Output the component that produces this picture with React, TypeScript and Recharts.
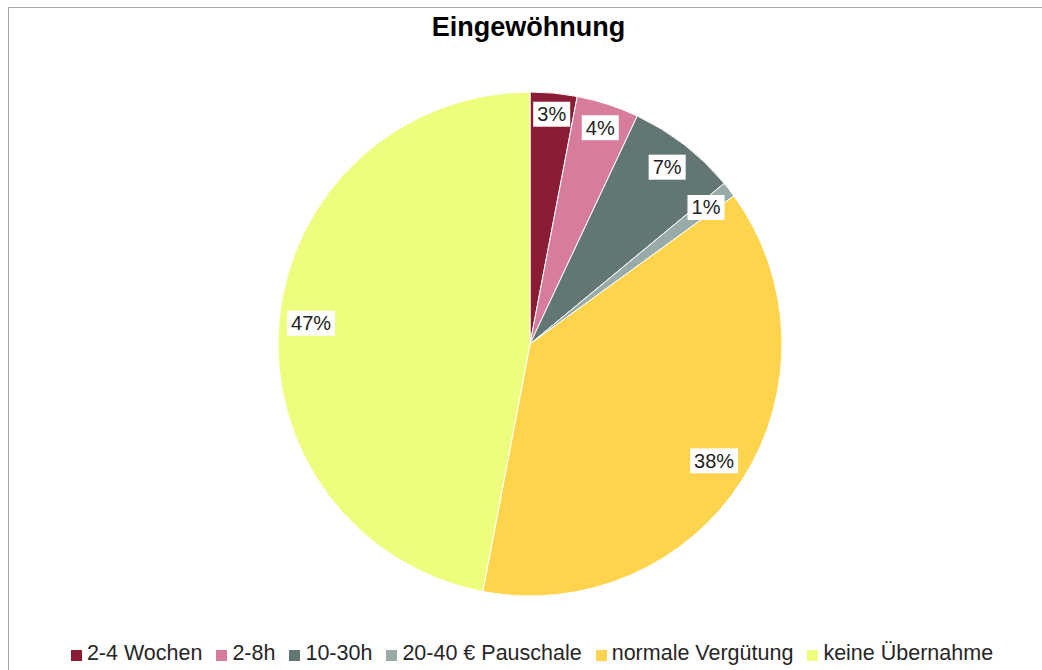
import React from "react";
import { PieChart, Pie, Cell, Legend } from "recharts";

const categories = [
  "2-4 Wochen",
  "2-8h",
  "10-30h",
  "20-40 € Pauschale",
  "normale Vergütung",
  "keine Übernahme",
];
const shares = [3, 4, 7, 1, 38, 47];
const colors = ["#8A1C33", "#D87C9E", "#627774", "#99ABA9", "#FDD44B", "#EEFD7E"];

const data = categories.map((name, i) => ({ name, value: shares[i] }));

const FONT = "'Liberation Sans', Arial, sans-serif";
const RAD = Math.PI / 180;

// white boxed percentage, pushed inwards until the box sits inside the rim
const renderLabel = (props: any) => {
  const { cx, cy, midAngle, outerRadius, value } = props;
  const text = `${value}%`;
  const tw = text.length === 2 ? 29 : 40;
  const hw = (tw + 8) / 2;
  const hh = 12.5;
  const c = Math.cos(-midAngle * RAD);
  const s = Math.sin(-midAngle * RAD);
  const r = outerRadius - 7 - (hw * Math.abs(c) + hh * Math.abs(s));
  const x = cx + r * c;
  const y = cy + r * s;
  return (
    <g>
      <rect x={x - hw} y={y - hh} width={hw * 2} height={hh * 2} fill="#fff" />
      <text
        x={x}
        y={y + 7}
        textAnchor="middle"
        fontSize={20}
        fontFamily={FONT}
        fill="#222"
      >
        {text}
      </text>
    </g>
  );
};

const renderLegend = (props: any) => {
  // keep the legend in data order (recharts sorts by name otherwise)
  const payload = [...(props.payload || [])].sort(
    (a: any, b: any) => categories.indexOf(a.value) - categories.indexOf(b.value)
  );
  return (
    <div
      style={{
        display: "flex",
        justifyContent: "center",
        alignItems: "center",
        fontFamily: FONT,
        fontSize: 21.5,
        color: "#262626",
        whiteSpace: "nowrap",
      }}
    >
      {payload.map((entry: any, i: number) => (
        <span
          key={i}
          style={{ display: "inline-flex", alignItems: "center", marginLeft: i === 0 ? 0 : 14 }}
        >
          <span
            style={{
              display: "inline-block",
              width: 11,
              height: 11,
              background: entry.color,
              marginRight: 5,
              marginTop: 4,
            }}
          />
          {entry.value}
        </span>
      ))}
    </div>
  );
};

export default function App() {
  return (
    <div
      style={{
        position: "absolute",
        top: 0,
        left: 0,
        width: 1042,
        height: 670,
        background: "#fff",
        overflow: "hidden",
      }}
    >
      <div
        style={{
          position: "absolute",
          left: 8,
          top: 7,
          width: 1100,
          height: 700,
          borderTop: "1px solid #a6a6a6",
          borderLeft: "1px solid #a6a6a6",
        }}
      />
      <div
        style={{
          position: "absolute",
          left: 0,
          top: 14,
          width: 1057,
          textAlign: "center",
          fontFamily: FONT,
          fontWeight: "bold",
          fontSize: 27,
          lineHeight: "27px",
          color: "#000",
        }}
      >
        Eingewöhnung
      </div>
      <PieChart
        width={1042}
        height={670}
        margin={{ top: 0, right: 0, bottom: 0, left: 0 }}
        style={{ position: "absolute", top: 0, left: 0 }}
      >
        <Pie
          data={data}
          dataKey="value"
          nameKey="name"
          cx={530}
          cy={344}
          outerRadius={252}
          startAngle={90}
          endAngle={-270}
          stroke="#fff"
          strokeWidth={1}
          label={renderLabel}
          labelLine={false}
          isAnimationActive={false}
        >
          {data.map((d, i) => (
            <Cell key={d.name} fill={colors[i]} />
          ))}
        </Pie>
        <Legend
          content={renderLegend}
          wrapperStyle={{ top: 641, left: 11, width: 1042, bottom: "auto" }}
        />
      </PieChart>
    </div>
  );
}
